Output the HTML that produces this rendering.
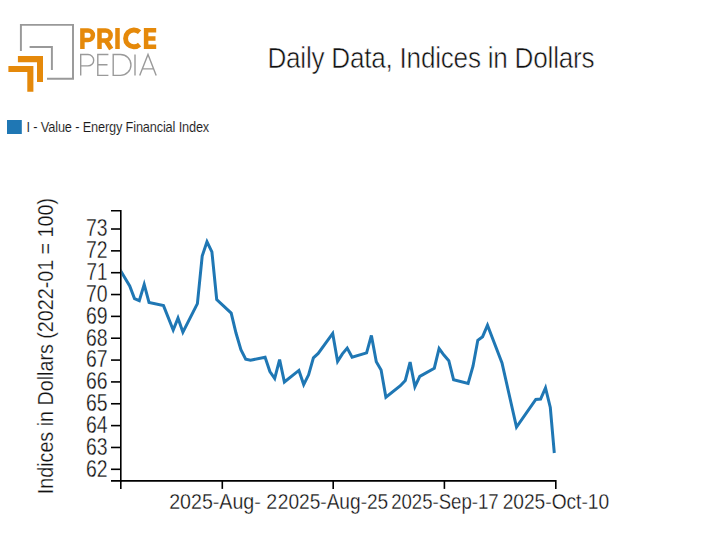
<!DOCTYPE html>
<html><head><meta charset="utf-8">
<style>
html,body{margin:0;padding:0;background:#fff;width:712px;height:555px;overflow:hidden}
svg{display:block}
text{font-family:"Liberation Sans",sans-serif}
</style></head><body>
<svg width="712" height="555" viewBox="0 0 712 555">
<rect width="712" height="555" fill="#fff"/>
<!-- logo -->
<g fill="none" stroke="#999" stroke-width="1.95">
<polyline points="20.9,50.9 20.9,24.85 73.0,24.85 73.0,78.7 47.0,78.7"/>
<polyline points="29.6,47.0 51.9,47.0 51.9,69.9"/>
</g>
<g fill="#e5890a">
<polygon points="17.9,56.1 43,56.1 43,82 37,82 37,62.2 17.9,62.2"/>
<polygon points="8.4,66 33.4,66 33.4,91.8 27.3,91.8 27.3,71.9 8.4,71.9"/>
</g>
<g fill="none" stroke="#e5890a" stroke-width="4.5">
<path d="M82.4,49V30.4H88.1A4.8,4.8 0 0 1 88.1,40.0H82.4M99.5,49V30.4H105.6A5.05,5.05 0 0 1 105.6,40.5H99.5M117.5,28.1V49"/>
<path d="M105.6,40.2L111.2,49" stroke-width="4.9"/>
<path d="M139.6,32.16A8.4,8.4 0 1 0 139.6,44.64" stroke-width="4.9"/>
<path d="M156.2,30.3H146.1V46.8H156.2M146.1,38.55H155.5"/>
</g>
<g fill="none" stroke="#9a9a9a" stroke-width="1.4">
<path d="M80.7,75.4V54.5H88A5.7,5.7 0 0 1 88,65.9H80.7"/>
<path d="M108.4,54.5H97.8V75.4H108.4M97.8,64.7H107.5"/>
<path d="M113.2,54.5V75.4H120.5A10.45,10.45 0 0 0 120.5,54.5Z"/>
<path d="M135,54.5V75.4"/>
<path d="M139.7,75.4L148,54.5L156.2,75.4M142.5,68.9H153.4"/>
</g>
<!-- title -->
<text transform="translate(267.4,67.6) scale(0.86,1)" font-size="30.4" fill="#111" stroke="#fff" stroke-width="0.55" textLength="380.4" lengthAdjust="spacing">Daily Data, Indices in Dollars</text>
<!-- legend -->
<rect x="7" y="120" width="14.8" height="14" fill="#1f77b4"/>
<text transform="translate(26.6,132.2) scale(0.86,1)" font-size="14.9" fill="#1a1a1a" stroke="#fff" stroke-width="0.1" textLength="212.4" lengthAdjust="spacing">I - Value - Energy Financial Index</text>
<!-- y label -->
<text transform="translate(52.9,494.2) rotate(-90)" font-size="22.8" fill="#111" stroke="#fff" stroke-width="0.25" textLength="296.2" lengthAdjust="spacingAndGlyphs">Indices in Dollars (2022-01 = 100)</text>
<clipPath id="cp"><rect x="121.5" y="150" width="500" height="340"/></clipPath>
<path d="M115.0,261.4L129.7,286.0L134.5,298.6L139.3,300.7L144.2,284.4L149.0,302.5L163.5,305.6L173.2,330.0L178.0,318.1L182.9,332.2L197.4,303.6L202.2,256.0L207.0,241.8L211.9,251.8L216.7,299.5L231.2,313.1L236.0,333.0L240.9,349.7L245.7,359.1L250.5,360.3L265.1,357.2L269.9,371.5L274.7,378.5L279.6,359.6L284.4,382.0L298.9,370.4L303.7,384.6L308.6,374.8L313.4,357.8L318.2,353.4L332.7,333.4L337.6,361.4L342.4,353.9L347.2,348.1L352.1,357.2L366.6,352.9L371.4,335.4L376.3,361.8L381.1,370.0L385.9,397.2L400.4,385.7L405.3,380.4L410.1,362.1L414.9,386.7L419.8,376.4L434.3,368.2L439.1,348.5L443.9,355.1L448.8,360.7L453.6,379.8L468.1,383.5L473.0,366.2L477.8,340.3L482.6,336.7L487.5,325.2L502.0,363.0L516.5,427.0L535.8,399.4L540.6,399.1L545.5,387.9L550.3,407.5L554.3,453.0" fill="none" stroke="#1f77b4" stroke-width="3" clip-path="url(#cp)"/>
<!-- axes -->
<g stroke="#000" stroke-width="1.6" fill="none">
<path d="M111.0,210.7H120.8V480.9H111.0"/>
<path d="M120.8,488.9V480.9H555.8V488.9"/>
<line x1="111.0" y1="469.30" x2="120.8" y2="469.30"/>
<line x1="111.0" y1="447.46" x2="120.8" y2="447.46"/>
<line x1="111.0" y1="425.61" x2="120.8" y2="425.61"/>
<line x1="111.0" y1="403.76" x2="120.8" y2="403.76"/>
<line x1="111.0" y1="381.92" x2="120.8" y2="381.92"/>
<line x1="111.0" y1="360.08" x2="120.8" y2="360.08"/>
<line x1="111.0" y1="338.23" x2="120.8" y2="338.23"/>
<line x1="111.0" y1="316.38" x2="120.8" y2="316.38"/>
<line x1="111.0" y1="294.54" x2="120.8" y2="294.54"/>
<line x1="111.0" y1="272.70" x2="120.8" y2="272.70"/>
<line x1="111.0" y1="250.85" x2="120.8" y2="250.85"/>
<line x1="111.0" y1="229.01" x2="120.8" y2="229.01"/>
<line x1="222.3" y1="480.9" x2="222.3" y2="488.9"/><line x1="333.2" y1="480.9" x2="333.2" y2="488.9"/><line x1="444.4" y1="480.9" x2="444.4" y2="488.9"/>
</g>
<g font-size="23.3" fill="#111" stroke="#fff" stroke-width="0.3">
<text x="107.6" y="476.70" text-anchor="end" textLength="21.6" lengthAdjust="spacingAndGlyphs">62</text>
<text x="107.6" y="454.86" text-anchor="end" textLength="21.6" lengthAdjust="spacingAndGlyphs">63</text>
<text x="107.6" y="433.01" text-anchor="end" textLength="21.6" lengthAdjust="spacingAndGlyphs">64</text>
<text x="107.6" y="411.16" text-anchor="end" textLength="21.6" lengthAdjust="spacingAndGlyphs">65</text>
<text x="107.6" y="389.32" text-anchor="end" textLength="21.6" lengthAdjust="spacingAndGlyphs">66</text>
<text x="107.6" y="367.48" text-anchor="end" textLength="21.6" lengthAdjust="spacingAndGlyphs">67</text>
<text x="107.6" y="345.63" text-anchor="end" textLength="21.6" lengthAdjust="spacingAndGlyphs">68</text>
<text x="107.6" y="323.78" text-anchor="end" textLength="21.6" lengthAdjust="spacingAndGlyphs">69</text>
<text x="107.6" y="301.94" text-anchor="end" textLength="21.6" lengthAdjust="spacingAndGlyphs">70</text>
<text x="107.6" y="280.10" text-anchor="end" textLength="21.0" lengthAdjust="spacingAndGlyphs">71</text>
<text x="107.6" y="258.25" text-anchor="end" textLength="21.6" lengthAdjust="spacingAndGlyphs">72</text>
<text x="107.6" y="236.41" text-anchor="end" textLength="21.6" lengthAdjust="spacingAndGlyphs">73</text>
</g>
<g font-size="22.7" fill="#111" stroke="#fff" stroke-width="0.3">
<text x="223.2" y="508.6" text-anchor="middle" textLength="108" lengthAdjust="spacingAndGlyphs">2025-Aug-&#160;2</text>
<text x="333" y="508.6" text-anchor="middle" textLength="110.5" lengthAdjust="spacingAndGlyphs">2025-Aug-25</text>
<text x="444.9" y="508.6" text-anchor="middle" textLength="107.5" lengthAdjust="spacingAndGlyphs">2025-Sep-17</text>
<text x="555.9" y="508.6" text-anchor="middle" textLength="106.5" lengthAdjust="spacingAndGlyphs">2025-Oct-10</text>
</g>
</svg>
</body></html>
